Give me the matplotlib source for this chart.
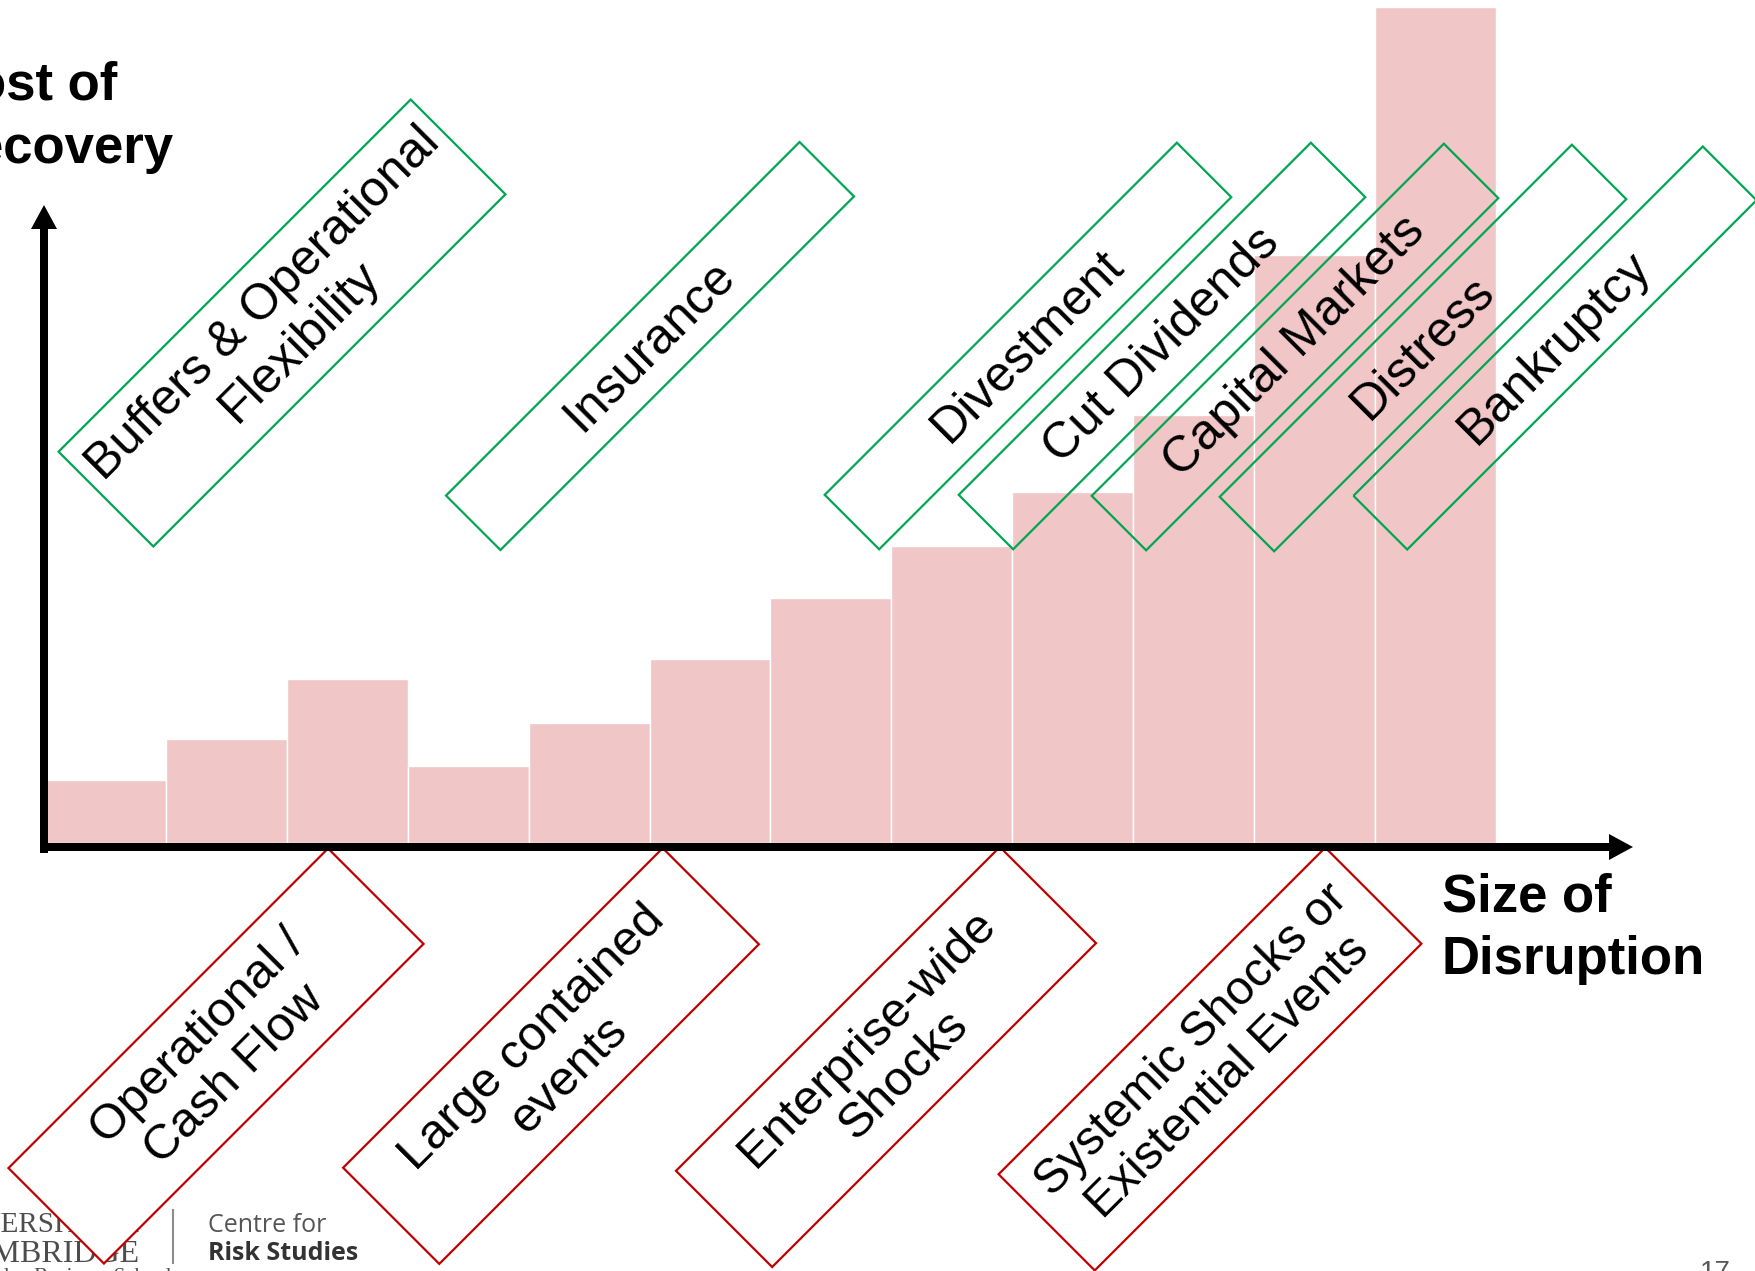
import numpy as np
import matplotlib.pyplot as plt
from matplotlib.patches import Rectangle

plt.rcParams['font.family'] = ['Liberation Sans', 'DejaVu Sans']

# canvas in pixels (overlay axes uses pixel coords, y down)
W, H = 1756, 1271

# relative cost of recovery for each step of disruption size
cost = [7.5, 12.4, 19.6, 9.2, 14.4, 22.0, 29.3, 35.5, 42.0, 51.2, 70.3, 100.0]

# recovery options (green, above) and disruption types (red, below)
green_labels = ["Buffers & Operational\nFlexibility", "Insurance", "Divestment",
                "Cut Dividends", "Capital Markets", "Distress", "Bankruptcy"]
red_labels = ["Operational /\nCash Flow", "Large contained\nevents",
              "Enterprise-wide\nShocks", "Systemic Shocks or\nExistential Events"]

# box layout: centre x, centre y, length, width (pixels)
green_boxes = [(282, 323, 498, 134), (650, 346, 500, 77), (1028, 346, 498, 77),
               (1162, 346, 498, 77), (1295, 347, 498, 77), (1423, 348, 498, 77),
               (1555, 348, 494, 76)]
red_boxes = [(216, 1056, 452, 135), (551, 1056, 452, 136),
             (886, 1057, 458, 136), (1210, 1059, 462, 136)]

green = "#00A651"
red = "#C00000"
pink = "#F0C6C7"


def draw_box(ax, box, text, color, fill, size):
    cx, cy, length, width = box
    r = Rectangle((cx - length / 2, cy - width / 2), length, width,
                  angle=-45, rotation_point='center',
                  facecolor='white' if fill else 'none',
                  edgecolor=color, linewidth=1.6, zorder=3)
    ax.add_patch(r)
    ax.text(cx, cy, text, rotation=45, rotation_mode='anchor',
            ha='center', va='center', multialignment='center',
            fontsize=size, color='black', zorder=4)


fig = plt.figure(figsize=(W / 100, H / 100), dpi=100)

# bars, placed on the plot area (x 45..1496 px, baseline 843 px, top 7 px)
bar_ax = fig.add_axes([45 / W, (H - 843) / H, (1496 - 45) / W, (843 - 7) / H])
x = np.arange(len(cost)) + 0.5
bar_ax.bar(x, cost, width=1.0, color=pink, edgecolor='white', linewidth=1.0)
bar_ax.set_xlim(0, len(cost))
bar_ax.set_ylim(0, 100)
bar_ax.axis('off')

# overlay for axes arrows, boxes and text
ax = fig.add_axes([0, 0, 1, 1])
ax.set_xlim(0, W)
ax.set_ylim(H, 0)
ax.axis('off')

ax.arrow(44, 853, 0, -648, width=8, head_width=26, head_length=24,
         length_includes_head=True, fc='black', ec='none', zorder=5)
ax.arrow(40, 847, 1593, 0, width=8, head_width=26, head_length=24,
         length_includes_head=True, fc='black', ec='none', zorder=5)

ax.text(-64, 99, "Cost of", fontsize=38, fontweight='bold', ha='left', va='baseline')
ax.text(-64, 163, "Recovery", fontsize=38, fontweight='bold', ha='left', va='baseline')
ax.text(1442, 911, "Size of", fontsize=38, fontweight='bold', ha='left', va='baseline')
ax.text(1442, 974, "Disruption", fontsize=38, fontweight='bold', ha='left', va='baseline')

for box, lab in zip(green_boxes, green_labels):
    draw_box(ax, box, lab, green, False, 36)

red_sizes = [35.5, 35.5, 35.5, 34.5]
for box, lab, s in zip(red_boxes, red_labels, red_sizes):
    draw_box(ax, box, lab, red, True, s)

# logo in the footer, partly hidden behind the first red box
ax.text(-72, 1232, "UNIVERSITY OF", family='Liberation Serif', fontsize=21,
        color='#4d4d4d', ha='left', va='baseline', zorder=2)
ax.text(140, 1262, "CAMBRIDGE", family='Liberation Serif', fontsize=23,
        color='#4d4d4d', ha='right', va='baseline', zorder=2)
ax.text(-20, 1268, "Judge Business School", family='Liberation Serif', fontsize=15,
        color='#4d4d4d', ha='left', va='top', zorder=2)
ax.plot([173, 173], [1210, 1263], color='#8c8c8c', lw=1.5, zorder=2)
ax.text(208, 1232, "Centre for", family='Open Sans', fontsize=18,
        color='#555555', ha='left', va='baseline', zorder=2)
ax.text(208, 1260, "Risk Studies", family='Open Sans', fontsize=18, fontweight='bold',
        color='#333333', ha='left', va='baseline', zorder=2)

ax.text(1700, 1280, "17", fontsize=20, color='#595959', ha='left', va='baseline')

fig.savefig('out.png', dpi=100)
